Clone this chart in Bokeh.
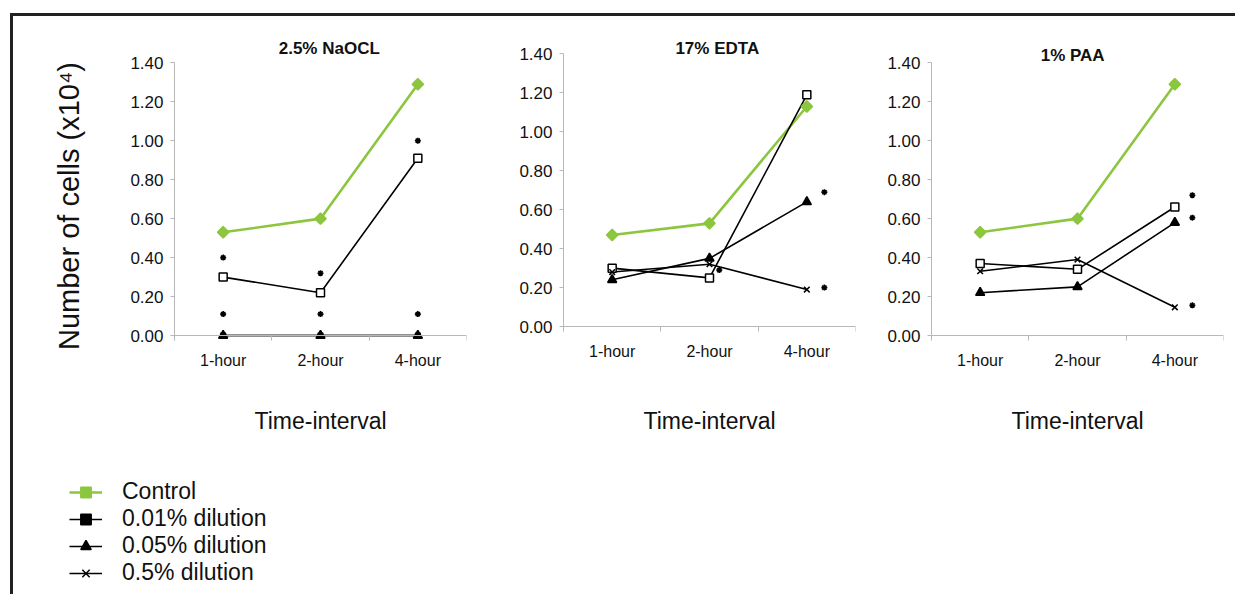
import numpy as np
from bokeh.plotting import figure
from bokeh.models import (Range1d, FixedTicker, NumeralTickFormatter, Label,
                          Legend, LegendItem, Title)
from bokeh.layouts import row, column
from bokeh.embed import file_html
from bokeh.resources import INLINE

# ---------------- data ----------------
categories = ["1-hour", "2-hour", "4-hour"]
y_ticks = [0.0, 0.2, 0.4, 0.6, 0.8, 1.0, 1.2, 1.4]
series_names = ["Control", "0.01% dilution", "0.05% dilution", "0.5% dilution"]
panel_titles = ["2.5% NaOCL", "17% EDTA", "1% PAA"]
x_title = "Time-interval"
y_title = "Number of cells (x10\u2074)"

naocl_control = [0.53, 0.60, 1.29]
naocl_001 = [0.30, 0.22, 0.91]
naocl_005 = [0.00, 0.00, 0.00]
naocl_05 = [0.00, 0.00, 0.00]
naocl_star_cats = ["1-hour", "1-hour", "2-hour", "2-hour", "4-hour", "4-hour"]
naocl_star_vals = [0.40, 0.11, 0.32, 0.11, 1.00, 0.11]

edta_control = [0.47, 0.53, 1.13]
edta_001 = [0.30, 0.25, 1.19]
edta_005 = [0.24, 0.35, 0.64]
edta_05 = [0.28, 0.32, 0.19]
edta_star_cats = ["2-hour", "4-hour", "4-hour"]
edta_star_vals = [0.29, 0.69, 0.20]

paa_control = [0.53, 0.60, 1.29]
paa_001 = [0.37, 0.34, 0.66]
paa_005 = [0.22, 0.25, 0.58]
paa_05 = [0.33, 0.39, 0.145]
paa_star_cats = ["4-hour", "4-hour", "4-hour"]
paa_star_vals = [0.72, 0.605, 0.155]

# ---------------- style ----------------
GREEN = "#8cc63e"
AXIS = "#b8b8b8"
FONT = "Liberation Sans"
TXT = "#111111"

xpos = {c: i + 0.5 for i, c in enumerate(categories)}
STYLES = [
    dict(color=GREEN, lw=2.6, marker="square", size=8, angle=np.pi / 4,
         fill=GREEN, line=GREEN),
    dict(color="black", lw=1.6, marker="square", size=8, angle=0,
         fill="white", line="black"),
    dict(color="black", lw=1.6, marker="triangle", size=9, angle=0,
         fill="black", line="black"),
    dict(color="black", lw=1.6, marker="x", size=8, angle=0,
         fill="black", line="black"),
]


def make_panel(title, series, star_cats, star_vals, star_dx, title_dx, title_y,
               left, right, y_shift, ylabel=None):
    p = figure(output_backend="svg", toolbar_location=None,
               frame_width=292, frame_height=337,
               min_border_left=left, min_border_right=right,
               min_border_top=21, min_border_bottom=96,
               x_range=Range1d(0, 3),
               y_range=Range1d(-0.2 - y_shift, 1.53 - y_shift))
    p.outline_line_color = None
    p.grid.visible = False

    xs = [xpos[c] for c in categories]
    for vals, st in zip(series, STYLES):
        p.line(xs, vals, line_color=st["color"], line_width=st["lw"])
    for vals, st in zip(series, STYLES):
        p.scatter(xs, vals, marker=st["marker"], size=st["size"],
                  angle=st["angle"], fill_color=st["fill"],
                  line_color=st["line"], line_width=1.5)

    sx = [xpos[c] + d for c, d in zip(star_cats, star_dx)]
    p.scatter(sx, star_vals, marker="asterisk", size=6, line_color="black",
              line_width=1.6)

    p.add_layout(Label(x=1.5 + title_dx, y=title_y, text=title,
                       text_align="center", text_baseline="middle",
                       text_font=FONT, text_font_size="17px",
                       text_font_style="bold", text_color=TXT))

    # x axis
    xa = p.xaxis[0]
    xa.fixed_location = 0
    xa.bounds = (0, 3)
    xa.ticker = FixedTicker(ticks=xs, minor_ticks=[0, 1, 2, 3])
    xa.major_label_overrides = {xpos[c]: c for c in categories}
    xa.major_tick_line_color = None
    xa.major_tick_out = 0
    xa.major_tick_in = 0
    xa.minor_tick_line_color = AXIS
    xa.minor_tick_out = 5
    xa.minor_tick_in = 0
    xa.axis_line_color = AXIS
    xa.major_label_text_font = FONT
    xa.major_label_text_font_size = "16px"
    xa.major_label_text_color = TXT
    xa.major_label_standoff = 11

    p.add_layout(Title(text=x_title, align="center", text_font=FONT,
                       text_font_size="23px", text_font_style="normal",
                       text_color=TXT, standoff=63), "below")

    # y axis
    ya = p.yaxis[0]
    ya.bounds = (-0.025, 1.4)
    ya.ticker = FixedTicker(ticks=y_ticks)
    ya.formatter = NumeralTickFormatter(format="0.00")
    ya.minor_tick_line_color = None
    ya.major_tick_line_color = AXIS
    ya.major_tick_out = 4
    ya.major_tick_in = 0
    ya.axis_line_color = AXIS
    ya.major_label_text_font = FONT
    ya.major_label_text_font_size = "17px"
    ya.major_label_text_color = TXT
    ya.major_label_standoff = 7
    if ylabel:
        ya.axis_label = ylabel
        ya.axis_label_text_font = FONT
        ya.axis_label_text_font_size = "29px"
        ya.axis_label_text_font_style = "normal"
        ya.axis_label_text_color = TXT
        ya.axis_label_standoff = 42
    return p


p1 = make_panel(panel_titles[0],
                [naocl_control, naocl_001, naocl_005, naocl_05],
                naocl_star_cats, naocl_star_vals, [0, 0, 0, 0, 0, 0],
                0.09, 1.475, 161, 34, 0.0, ylabel=y_title)
p2 = make_panel(panel_titles[1],
                [edta_control, edta_001, edta_005, edta_05],
                edta_star_cats, edta_star_vals, [0.10, 0.18, 0.18],
                0.08, 1.43, 63, 25, 0.046)
p3 = make_panel(panel_titles[2],
                [paa_control, paa_001, paa_005, paa_05],
                paa_star_cats, paa_star_vals, [0.18, 0.18, 0.18],
                -0.05, 1.437, 51, 12, 0.0)

# ---------------- legend strip ----------------
leg = figure(output_backend="svg", toolbar_location=None, width=1222,
             height=124, min_border=0, x_range=Range1d(10, 11),
             y_range=Range1d(10, 11), x_axis_location=None,
             y_axis_location=None)
leg.outline_line_color = None
leg.grid.visible = False
leg_markers = [("square", GREEN, GREEN, np.pi / 4, 7),
               ("square", "black", "black", 0, 7),
               ("triangle", "black", "black", 0, 8),
               ("x", "black", "black", 0, 7)]
xs = [xpos[c] for c in categories]
items = []
for name, vals, st, (mk, fc, lc, ang, sz) in zip(
        series_names, [naocl_control, naocl_001, naocl_005, naocl_05],
        STYLES, leg_markers):
    lr = leg.line(xs, vals, line_color=st["color"], line_width=st["lw"])
    sr = leg.scatter(xs, vals, marker=mk, size=sz, angle=ang, fill_color=fc,
                     line_color=lc, line_width=1.5)
    items.append(LegendItem(label=name, renderers=[lr, sr]))

legend = Legend(items=items, location=(56, 8), glyph_width=33,
                glyph_height=26, label_height=26, label_standoff=20,
                spacing=0, padding=0, margin=0, border_line_color=None,
                background_fill_alpha=0, label_text_font=FONT,
                label_text_font_size="23px", label_text_color=TXT)
leg.add_layout(legend)

layout = column(row(p1, p2, p3), leg, margin=(13, 0, 0, 10),
                styles={"border-top": "3px solid #222222",
                        "border-left": "3px solid #222222"})

open("out.html", "w").write(file_html(layout, INLINE))
